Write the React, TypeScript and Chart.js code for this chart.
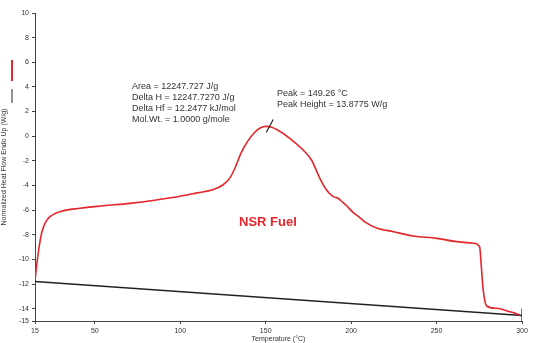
import React, { useEffect, useRef } from "react";
import { Chart, registerables } from "chart.js";

Chart.register(...registerables);

// Red DSC curve: temperature (°C) and normalized heat flow (W/g)
const temperature = [
  15, 16.9, 18.9, 20.9, 23.8, 29.6, 41.3, 55, 70.6, 85, 100, 110, 119, 124.9, 129, 132, 135.5,
  139.5, 143.5, 147, 150.3, 153.5, 157, 164.1, 171.9, 176.8, 181.7, 185.6, 189.5, 192.4,
  194.5, 197, 201.3, 205.1, 208, 215, 224.7, 236.4, 250.1, 261.8, 271.5, 275.2, 276.2, 277.3,
  279.3, 285.2, 293, 298.8,
];
const heatFlow = [
  -11.67, -9.48, -7.86, -7.05, -6.53, -6.13, -5.85, -5.65, -5.45, -5.2, -4.88, -4.6, -4.35,
  -3.96, -3.4, -2.6, -1.4, -0.4, 0.3, 0.68, 0.8, 0.72, 0.5, -0.17, -1.12, -1.93, -3.42,
  -4.37, -4.91, -5.04, -5.3, -5.6, -6.2, -6.6, -6.95, -7.45, -7.75, -8.1, -8.29, -8.56, -8.69,
  -8.97, -10.59, -12.48, -13.78, -13.97, -14.25, -14.51,
];

// Black integration baseline
const baselineT = [15, 300];
const baselineY = [-11.8, -14.55];
// End bracket of the integration range
const bracketT = [300, 300];
const bracketY = [-14.0, -15];

// Axis ticks
const xTicks = [15, 50, 100, 150, 200, 250, 300];
const yTicks = [10, 8, 6, 4, 2, 0, -2, -4, -6, -8, -10, -12, -14, -15];

// Annotations (text anchored at data coordinates)
const resultLines = [
  "Area = 12247.727 J/g",
  "Delta H = 12247.7270 J/g",
  "Delta Hf = 12.2477 kJ/mol",
  "Mol.Wt. = 1.0000 g/mole",
];
const resultAnchor = { t: 71.8, v: 4.0 };
const peakLines = ["Peak = 149.26 °C", "Peak Height = 13.8775 W/g"];
const peakTextAnchor = { t: 156.6, v: 3.5 };
const peakPoint = { t: 150.3, v: 0.3 };
const peakLeader = { t: 154.4, v: 1.35 };
const sampleName = "NSR Fuel";
const sampleAnchor = { t: 151.3, v: -6.96 };

const FONT = "'Liberation Sans', Arial, sans-serif";

const annotationPlugin = {
  id: "dscAnnotations",
  afterDatasetsDraw(chart: any) {
    const { ctx, scales } = chart;
    const xs = scales.x;
    const ys = scales.y;
    const px = (t: number) => xs.getPixelForValue(t);
    const py = (v: number) => ys.getPixelForValue(v);
    ctx.save();
    ctx.fillStyle = "#333";
    ctx.font = `9px ${FONT}`;
    ctx.textAlign = "left";
    ctx.textBaseline = "middle";
    resultLines.forEach((l, i) => {
      ctx.fillText(l, px(resultAnchor.t), py(resultAnchor.v) + i * 11);
    });
    peakLines.forEach((l, i) => {
      ctx.fillText(l, px(peakTextAnchor.t), py(peakTextAnchor.v) + i * 11.5);
    });
    ctx.strokeStyle = "#222";
    ctx.lineWidth = 1.2;
    ctx.beginPath();
    ctx.moveTo(px(peakPoint.t), py(peakPoint.v));
    ctx.lineTo(px(peakLeader.t), py(peakLeader.v));
    ctx.stroke();

    ctx.fillStyle = "#e3262b";
    ctx.font = `bold 13px ${FONT}`;
    ctx.textAlign = "center";
    ctx.fillText(sampleName, px(sampleAnchor.t), py(sampleAnchor.v));

    // legend swatches beside the y-axis title
    const ca = chart.chartArea;
    ctx.strokeStyle = "#e3262b";
    ctx.lineWidth = 2;
    ctx.beginPath();
    ctx.moveTo(12, ca.top + 47);
    ctx.lineTo(12, ca.top + 68);
    ctx.stroke();
    ctx.strokeStyle = "#222";
    ctx.lineWidth = 1;
    ctx.beginPath();
    ctx.moveTo(12, ca.top + 76);
    ctx.lineTo(12, ca.top + 90);
    ctx.stroke();
    ctx.restore();
  },
};

export default function App() {
  const ref = useRef<HTMLCanvasElement | null>(null);

  useEffect(() => {
    if (!ref.current) return;
    const chart = new Chart(ref.current, {
      type: "line",
      data: {
        datasets: [
          {
            label: "Heat Flow",
            data: temperature.map((t, i) => ({ x: t, y: heatFlow[i] })),
            borderColor: "#e3262b",
            borderWidth: 1.6,
            pointRadius: 0,
            cubicInterpolationMode: "monotone",
            fill: false,
          },
          {
            label: "Baseline",
            data: baselineT.map((t, i) => ({ x: t, y: baselineY[i] })),
            borderColor: "#222",
            borderWidth: 1.5,
            pointRadius: 0,
            fill: false,
          },
          {
            label: "Bracket",
            data: bracketT.map((t, i) => ({ x: t, y: bracketY[i] })),
            borderColor: "#555",
            borderWidth: 1,
            pointRadius: 0,
            fill: false,
          },
        ],
      },
      options: {
        animation: false,
        responsive: false,
        maintainAspectRatio: false,
        layout: { padding: { top: 13, right: 12, left: 0, bottom: 0 } },
        plugins: { legend: { display: false }, tooltip: { enabled: false } },
        scales: {
          x: {
            type: "linear",
            min: 15,
            max: 300,
            afterBuildTicks: (s: any) => {
              s.ticks = xTicks.map((v) => ({ value: v }));
            },
            afterFit: (s: any) => {
              s.height = 22;
            },
            border: { color: "#444", width: 1 },
            grid: { drawOnChartArea: false, drawTicks: true, tickLength: 3, color: "#444" },
            ticks: {
              color: "#333",
              font: { family: FONT, size: 7 },
              padding: 3,
              maxRotation: 0,
              autoSkip: false,
            },
            title: {
              display: true,
              text: "Temperature (°C)",
              color: "#333",
              font: { family: FONT, size: 7 },
              padding: 0,
            },
          },
          y: {
            type: "linear",
            min: -15,
            max: 10,
            afterBuildTicks: (s: any) => {
              s.ticks = yTicks.map((v) => ({ value: v }));
            },
            afterFit: (s: any) => {
              s.width = 35;
            },
            border: { color: "#444", width: 1 },
            grid: { drawOnChartArea: false, drawTicks: true, tickLength: 3, color: "#444" },
            ticks: {
              color: "#333",
              font: { family: FONT, size: 7 },
              padding: 3,
              autoSkip: false,
            },
            title: {
              display: true,
              text: "Normalized Heat Flow Endo Up (W/g)",
              color: "#333",
              font: { family: FONT, size: 7 },
              padding: { top: 0, bottom: 0 },
            },
          },
        },
      },
      plugins: [annotationPlugin],
    } as any);
    return () => chart.destroy();
  }, []);

  return (
    <div style={{ position: "fixed", left: 0, top: 0, width: 534, height: 343, background: "#fff" }}>
      <canvas ref={ref} width={534} height={343} style={{ width: 534, height: 343 }} />
    </div>
  );
}
